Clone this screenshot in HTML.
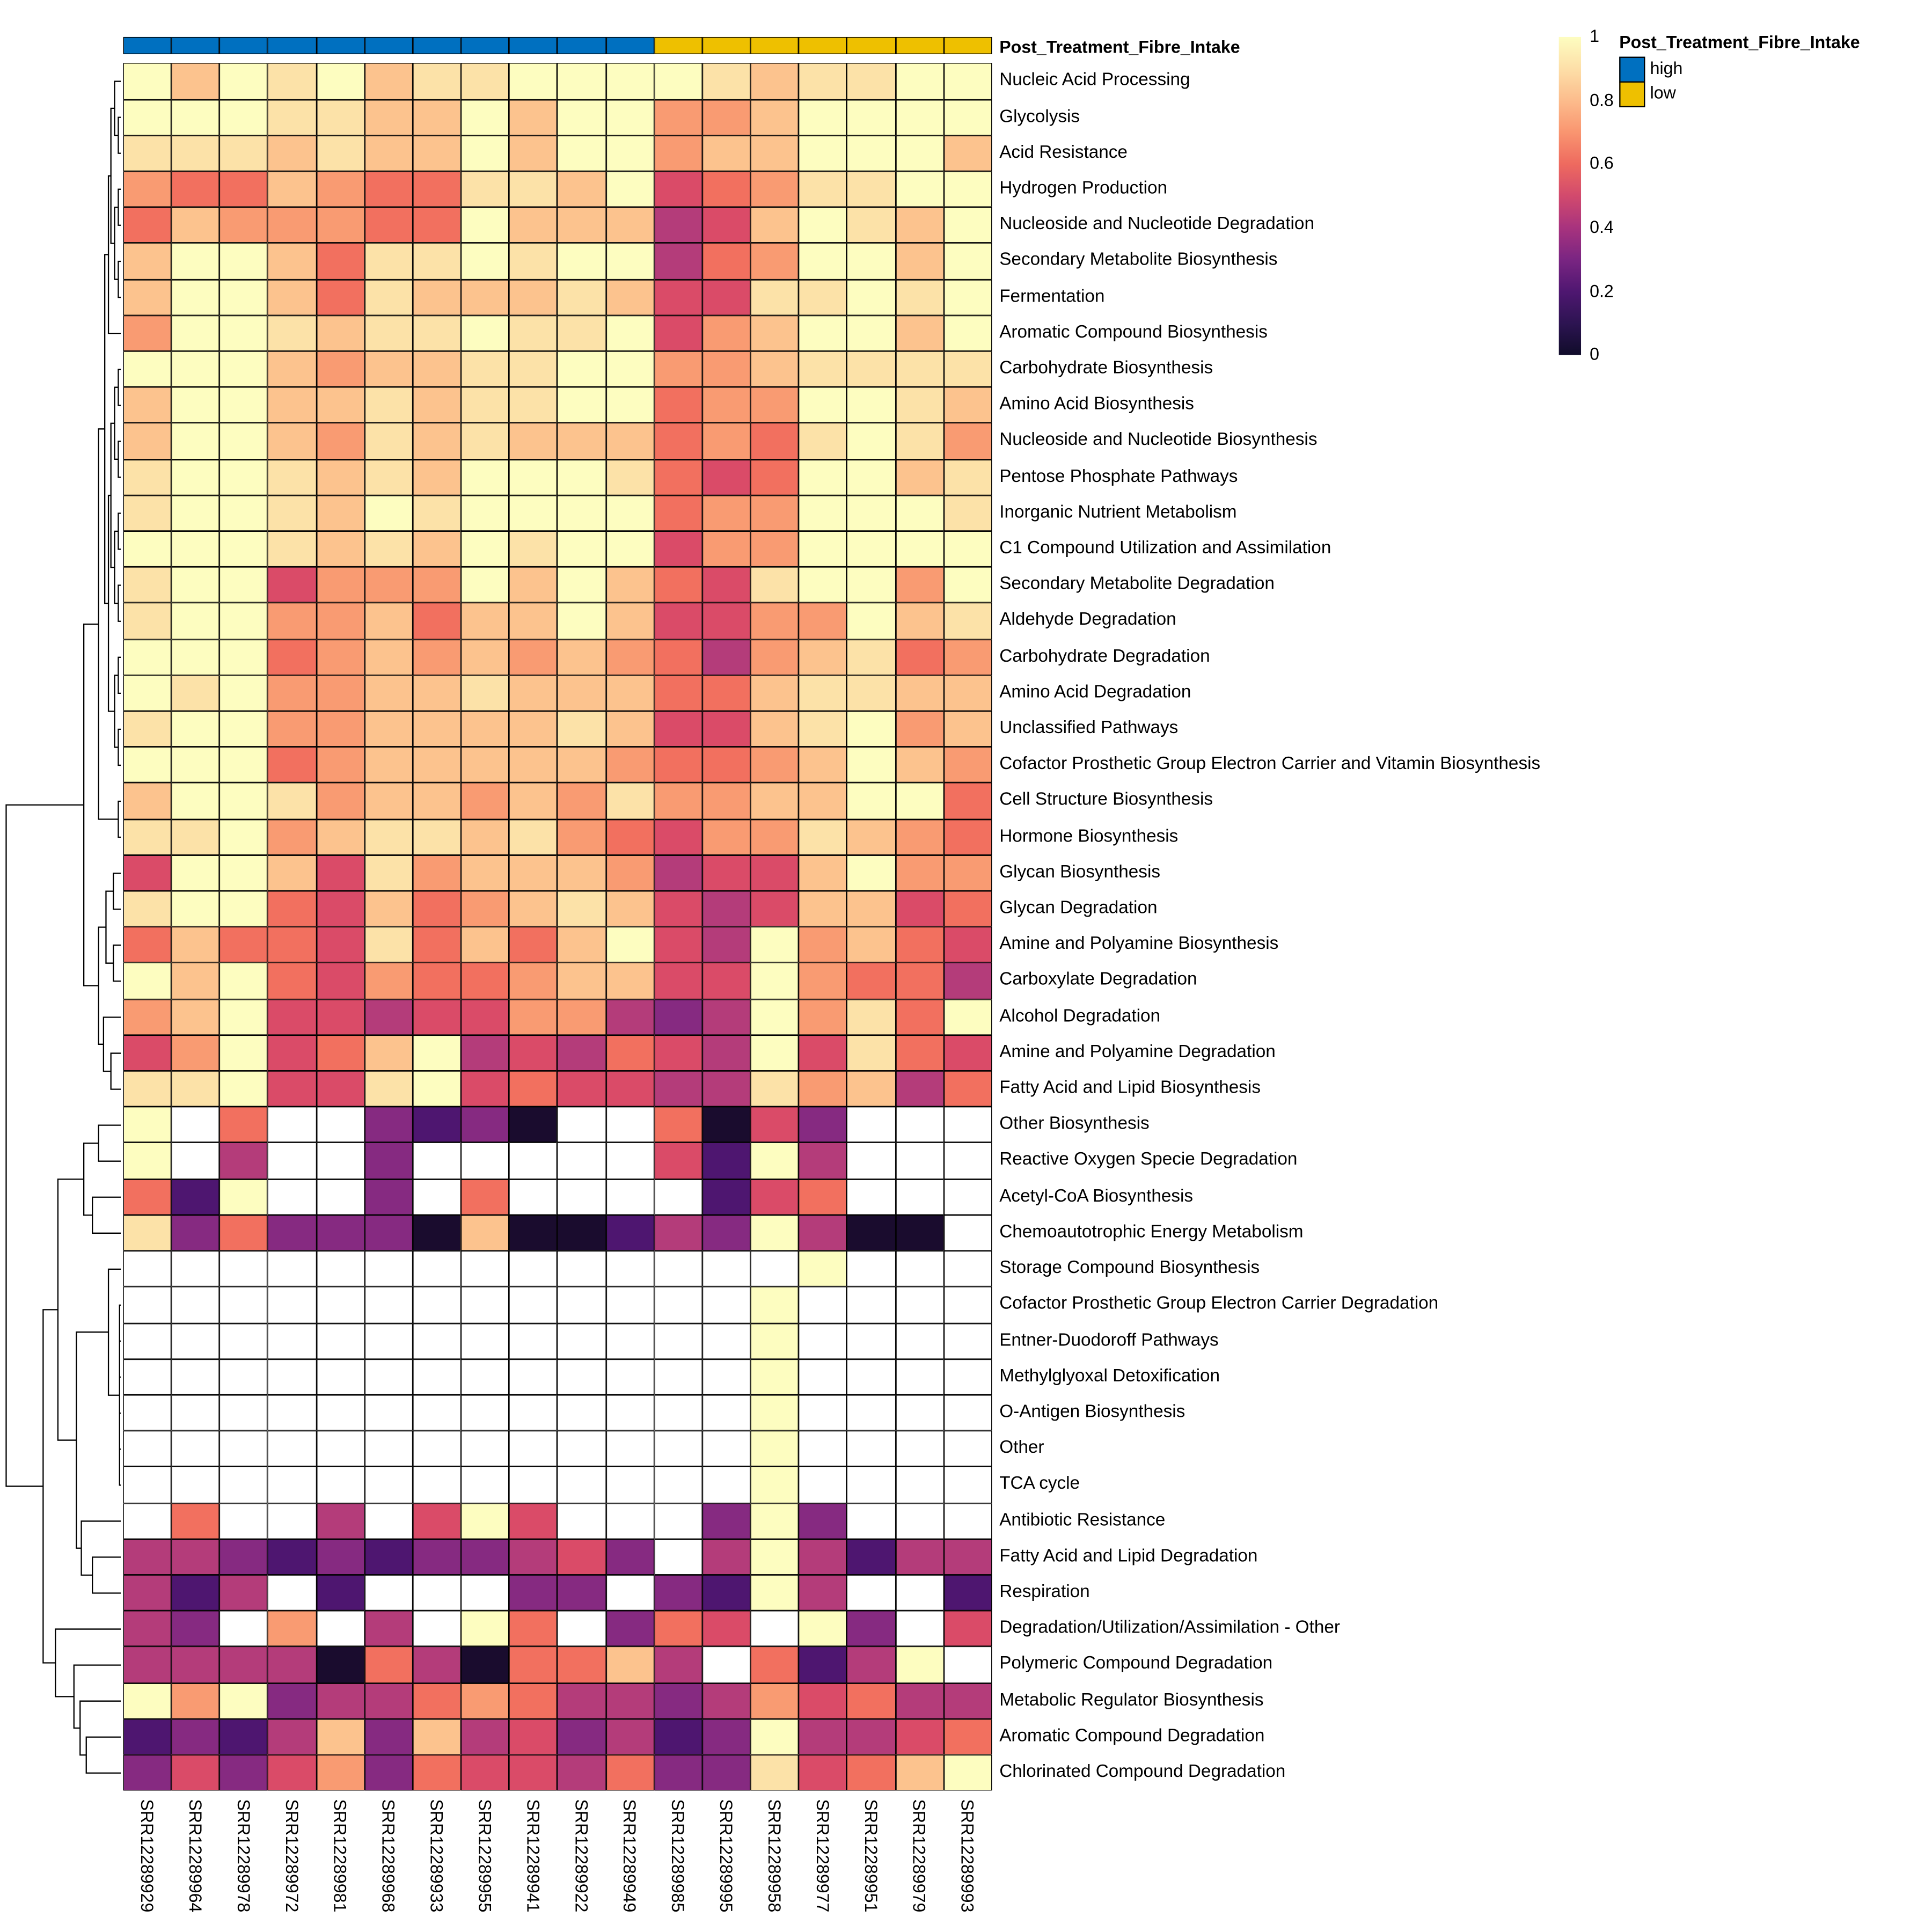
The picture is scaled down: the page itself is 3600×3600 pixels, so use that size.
<!DOCTYPE html>
<html><head><meta charset="utf-8"><style>
html,body{margin:0;padding:0;background:#fff;width:3600px;height:3600px;overflow:hidden;}
#w{position:absolute;left:0;top:0;width:1568px;height:1568px;transform:scale(2.2962);transform-origin:0 0;font-family:"Liberation Sans",Arial,sans-serif;color:#000;}
#hm{position:absolute;left:100px;top:51.4px;display:grid;grid-template-columns:repeat(18,39.17px);grid-auto-rows:29.21px;}
#hm i{display:block;box-shadow:inset 0 0 0 0.6px #000;}
.c9{background:#FDFDC0}.c8{background:#FCE2A8}.c7{background:#FCC38E}.c6{background:#F99B72}.c5{background:#F2705F}.c4{background:#DA4B68}.c3{background:#B43C7A}.c2{background:#862A81}.c1{background:#4E1670}.c0{background:#1A0C2E}.cW{background:#fff}
#ann{position:absolute;left:100px;top:30px;display:grid;grid-template-columns:repeat(18,39.17px);height:14px;}
#ann i{display:block;box-shadow:inset 0 0 0 0.6px #000;}
.hi{background:#0070C0}.lo{background:#EEC000}
#rl{position:absolute;left:811px;top:51.4px;font-size:14.5px;}
#rl div{height:29.21px;line-height:29.21px;white-space:nowrap;}
#cl{position:absolute;left:100px;top:1460px;display:flex;font-size:14px;}
#cl div{width:39.17px;writing-mode:vertical-rl;display:flex;align-items:center;white-space:nowrap;}
.t{position:absolute;white-space:nowrap;}
</style></head><body><div id="w">
<div id="ann"><i class=hi></i><i class=hi></i><i class=hi></i><i class=hi></i><i class=hi></i><i class=hi></i><i class=hi></i><i class=hi></i><i class=hi></i><i class=hi></i><i class=hi></i><i class=lo></i><i class=lo></i><i class=lo></i><i class=lo></i><i class=lo></i><i class=lo></i><i class=lo></i></div>
<div class="t" style="left:811px;top:30px;font-size:14px;font-weight:bold;">Post_Treatment_Fibre_Intake</div>
<div id="hm">
<i class=c9></i><i class=c7></i><i class=c9></i><i class=c8></i><i class=c9></i><i class=c7></i><i class=c8></i><i class=c8></i><i class=c9></i><i class=c9></i><i class=c9></i><i class=c9></i><i class=c8></i><i class=c7></i><i class=c8></i><i class=c8></i><i class=c9></i><i class=c9></i>
<i class=c9></i><i class=c9></i><i class=c9></i><i class=c8></i><i class=c8></i><i class=c7></i><i class=c7></i><i class=c9></i><i class=c7></i><i class=c9></i><i class=c9></i><i class=c6></i><i class=c6></i><i class=c7></i><i class=c9></i><i class=c9></i><i class=c9></i><i class=c9></i>
<i class=c8></i><i class=c8></i><i class=c8></i><i class=c7></i><i class=c8></i><i class=c7></i><i class=c7></i><i class=c9></i><i class=c7></i><i class=c9></i><i class=c9></i><i class=c6></i><i class=c7></i><i class=c7></i><i class=c9></i><i class=c9></i><i class=c9></i><i class=c7></i>
<i class=c6></i><i class=c5></i><i class=c5></i><i class=c7></i><i class=c6></i><i class=c5></i><i class=c5></i><i class=c8></i><i class=c8></i><i class=c7></i><i class=c9></i><i class=c4></i><i class=c5></i><i class=c6></i><i class=c8></i><i class=c8></i><i class=c9></i><i class=c9></i>
<i class=c5></i><i class=c7></i><i class=c6></i><i class=c6></i><i class=c6></i><i class=c5></i><i class=c5></i><i class=c9></i><i class=c7></i><i class=c7></i><i class=c7></i><i class=c3></i><i class=c4></i><i class=c7></i><i class=c9></i><i class=c8></i><i class=c7></i><i class=c9></i>
<i class=c7></i><i class=c9></i><i class=c9></i><i class=c7></i><i class=c5></i><i class=c8></i><i class=c8></i><i class=c9></i><i class=c8></i><i class=c9></i><i class=c9></i><i class=c3></i><i class=c5></i><i class=c6></i><i class=c9></i><i class=c9></i><i class=c7></i><i class=c9></i>
<i class=c7></i><i class=c9></i><i class=c9></i><i class=c7></i><i class=c5></i><i class=c8></i><i class=c7></i><i class=c7></i><i class=c7></i><i class=c8></i><i class=c7></i><i class=c4></i><i class=c4></i><i class=c8></i><i class=c8></i><i class=c9></i><i class=c8></i><i class=c9></i>
<i class=c6></i><i class=c9></i><i class=c9></i><i class=c8></i><i class=c7></i><i class=c8></i><i class=c8></i><i class=c9></i><i class=c8></i><i class=c8></i><i class=c9></i><i class=c4></i><i class=c6></i><i class=c7></i><i class=c9></i><i class=c9></i><i class=c7></i><i class=c9></i>
<i class=c9></i><i class=c9></i><i class=c9></i><i class=c7></i><i class=c6></i><i class=c7></i><i class=c7></i><i class=c8></i><i class=c8></i><i class=c9></i><i class=c9></i><i class=c6></i><i class=c6></i><i class=c7></i><i class=c8></i><i class=c8></i><i class=c8></i><i class=c8></i>
<i class=c7></i><i class=c9></i><i class=c9></i><i class=c7></i><i class=c7></i><i class=c8></i><i class=c7></i><i class=c8></i><i class=c8></i><i class=c9></i><i class=c9></i><i class=c5></i><i class=c6></i><i class=c6></i><i class=c9></i><i class=c9></i><i class=c8></i><i class=c7></i>
<i class=c7></i><i class=c9></i><i class=c9></i><i class=c7></i><i class=c6></i><i class=c8></i><i class=c7></i><i class=c8></i><i class=c7></i><i class=c7></i><i class=c7></i><i class=c5></i><i class=c6></i><i class=c5></i><i class=c8></i><i class=c9></i><i class=c8></i><i class=c6></i>
<i class=c8></i><i class=c9></i><i class=c9></i><i class=c8></i><i class=c7></i><i class=c8></i><i class=c7></i><i class=c9></i><i class=c9></i><i class=c9></i><i class=c8></i><i class=c5></i><i class=c4></i><i class=c5></i><i class=c9></i><i class=c9></i><i class=c7></i><i class=c8></i>
<i class=c8></i><i class=c9></i><i class=c9></i><i class=c8></i><i class=c7></i><i class=c9></i><i class=c8></i><i class=c9></i><i class=c9></i><i class=c9></i><i class=c9></i><i class=c5></i><i class=c6></i><i class=c6></i><i class=c9></i><i class=c9></i><i class=c9></i><i class=c8></i>
<i class=c9></i><i class=c9></i><i class=c9></i><i class=c8></i><i class=c7></i><i class=c8></i><i class=c7></i><i class=c9></i><i class=c8></i><i class=c9></i><i class=c9></i><i class=c4></i><i class=c6></i><i class=c6></i><i class=c9></i><i class=c9></i><i class=c9></i><i class=c9></i>
<i class=c8></i><i class=c9></i><i class=c9></i><i class=c4></i><i class=c6></i><i class=c6></i><i class=c6></i><i class=c9></i><i class=c7></i><i class=c9></i><i class=c7></i><i class=c5></i><i class=c4></i><i class=c8></i><i class=c9></i><i class=c9></i><i class=c6></i><i class=c9></i>
<i class=c8></i><i class=c9></i><i class=c9></i><i class=c6></i><i class=c6></i><i class=c7></i><i class=c5></i><i class=c7></i><i class=c7></i><i class=c9></i><i class=c7></i><i class=c4></i><i class=c4></i><i class=c6></i><i class=c6></i><i class=c9></i><i class=c7></i><i class=c8></i>
<i class=c9></i><i class=c9></i><i class=c9></i><i class=c5></i><i class=c6></i><i class=c7></i><i class=c6></i><i class=c7></i><i class=c6></i><i class=c7></i><i class=c6></i><i class=c5></i><i class=c3></i><i class=c6></i><i class=c7></i><i class=c8></i><i class=c5></i><i class=c6></i>
<i class=c9></i><i class=c8></i><i class=c9></i><i class=c6></i><i class=c6></i><i class=c7></i><i class=c7></i><i class=c8></i><i class=c7></i><i class=c7></i><i class=c7></i><i class=c5></i><i class=c5></i><i class=c7></i><i class=c8></i><i class=c8></i><i class=c7></i><i class=c7></i>
<i class=c8></i><i class=c9></i><i class=c9></i><i class=c6></i><i class=c6></i><i class=c7></i><i class=c7></i><i class=c7></i><i class=c7></i><i class=c8></i><i class=c7></i><i class=c4></i><i class=c4></i><i class=c7></i><i class=c8></i><i class=c9></i><i class=c6></i><i class=c7></i>
<i class=c9></i><i class=c9></i><i class=c9></i><i class=c5></i><i class=c6></i><i class=c7></i><i class=c7></i><i class=c7></i><i class=c7></i><i class=c7></i><i class=c6></i><i class=c5></i><i class=c5></i><i class=c6></i><i class=c7></i><i class=c9></i><i class=c7></i><i class=c6></i>
<i class=c7></i><i class=c9></i><i class=c9></i><i class=c8></i><i class=c6></i><i class=c7></i><i class=c7></i><i class=c6></i><i class=c7></i><i class=c6></i><i class=c8></i><i class=c6></i><i class=c6></i><i class=c7></i><i class=c7></i><i class=c9></i><i class=c9></i><i class=c5></i>
<i class=c8></i><i class=c8></i><i class=c9></i><i class=c6></i><i class=c7></i><i class=c8></i><i class=c8></i><i class=c7></i><i class=c8></i><i class=c6></i><i class=c5></i><i class=c4></i><i class=c6></i><i class=c6></i><i class=c8></i><i class=c7></i><i class=c6></i><i class=c5></i>
<i class=c4></i><i class=c9></i><i class=c9></i><i class=c7></i><i class=c4></i><i class=c8></i><i class=c6></i><i class=c7></i><i class=c7></i><i class=c7></i><i class=c6></i><i class=c3></i><i class=c4></i><i class=c4></i><i class=c7></i><i class=c9></i><i class=c6></i><i class=c6></i>
<i class=c8></i><i class=c9></i><i class=c9></i><i class=c5></i><i class=c4></i><i class=c7></i><i class=c5></i><i class=c6></i><i class=c7></i><i class=c8></i><i class=c7></i><i class=c4></i><i class=c3></i><i class=c4></i><i class=c7></i><i class=c7></i><i class=c4></i><i class=c5></i>
<i class=c5></i><i class=c7></i><i class=c5></i><i class=c5></i><i class=c4></i><i class=c8></i><i class=c5></i><i class=c7></i><i class=c5></i><i class=c7></i><i class=c9></i><i class=c4></i><i class=c3></i><i class=c9></i><i class=c6></i><i class=c7></i><i class=c5></i><i class=c4></i>
<i class=c9></i><i class=c7></i><i class=c9></i><i class=c5></i><i class=c4></i><i class=c6></i><i class=c5></i><i class=c5></i><i class=c6></i><i class=c7></i><i class=c7></i><i class=c4></i><i class=c4></i><i class=c9></i><i class=c6></i><i class=c5></i><i class=c5></i><i class=c3></i>
<i class=c6></i><i class=c7></i><i class=c9></i><i class=c4></i><i class=c4></i><i class=c3></i><i class=c4></i><i class=c4></i><i class=c6></i><i class=c6></i><i class=c3></i><i class=c2></i><i class=c3></i><i class=c9></i><i class=c6></i><i class=c8></i><i class=c5></i><i class=c9></i>
<i class=c4></i><i class=c6></i><i class=c9></i><i class=c4></i><i class=c5></i><i class=c7></i><i class=c9></i><i class=c3></i><i class=c4></i><i class=c3></i><i class=c5></i><i class=c4></i><i class=c3></i><i class=c9></i><i class=c4></i><i class=c8></i><i class=c5></i><i class=c4></i>
<i class=c8></i><i class=c8></i><i class=c9></i><i class=c4></i><i class=c4></i><i class=c8></i><i class=c9></i><i class=c4></i><i class=c5></i><i class=c4></i><i class=c4></i><i class=c3></i><i class=c3></i><i class=c8></i><i class=c6></i><i class=c7></i><i class=c3></i><i class=c5></i>
<i class=c9></i><i class=cW></i><i class=c5></i><i class=cW></i><i class=cW></i><i class=c2></i><i class=c1></i><i class=c2></i><i class=c0></i><i class=cW></i><i class=cW></i><i class=c5></i><i class=c0></i><i class=c4></i><i class=c2></i><i class=cW></i><i class=cW></i><i class=cW></i>
<i class=c9></i><i class=cW></i><i class=c3></i><i class=cW></i><i class=cW></i><i class=c2></i><i class=cW></i><i class=cW></i><i class=cW></i><i class=cW></i><i class=cW></i><i class=c4></i><i class=c1></i><i class=c9></i><i class=c3></i><i class=cW></i><i class=cW></i><i class=cW></i>
<i class=c5></i><i class=c1></i><i class=c9></i><i class=cW></i><i class=cW></i><i class=c2></i><i class=cW></i><i class=c5></i><i class=cW></i><i class=cW></i><i class=cW></i><i class=cW></i><i class=c1></i><i class=c4></i><i class=c5></i><i class=cW></i><i class=cW></i><i class=cW></i>
<i class=c8></i><i class=c2></i><i class=c5></i><i class=c2></i><i class=c2></i><i class=c2></i><i class=c0></i><i class=c7></i><i class=c0></i><i class=c0></i><i class=c1></i><i class=c3></i><i class=c2></i><i class=c9></i><i class=c3></i><i class=c0></i><i class=c0></i><i class=cW></i>
<i class=cW></i><i class=cW></i><i class=cW></i><i class=cW></i><i class=cW></i><i class=cW></i><i class=cW></i><i class=cW></i><i class=cW></i><i class=cW></i><i class=cW></i><i class=cW></i><i class=cW></i><i class=cW></i><i class=c9></i><i class=cW></i><i class=cW></i><i class=cW></i>
<i class=cW></i><i class=cW></i><i class=cW></i><i class=cW></i><i class=cW></i><i class=cW></i><i class=cW></i><i class=cW></i><i class=cW></i><i class=cW></i><i class=cW></i><i class=cW></i><i class=cW></i><i class=c9></i><i class=cW></i><i class=cW></i><i class=cW></i><i class=cW></i>
<i class=cW></i><i class=cW></i><i class=cW></i><i class=cW></i><i class=cW></i><i class=cW></i><i class=cW></i><i class=cW></i><i class=cW></i><i class=cW></i><i class=cW></i><i class=cW></i><i class=cW></i><i class=c9></i><i class=cW></i><i class=cW></i><i class=cW></i><i class=cW></i>
<i class=cW></i><i class=cW></i><i class=cW></i><i class=cW></i><i class=cW></i><i class=cW></i><i class=cW></i><i class=cW></i><i class=cW></i><i class=cW></i><i class=cW></i><i class=cW></i><i class=cW></i><i class=c9></i><i class=cW></i><i class=cW></i><i class=cW></i><i class=cW></i>
<i class=cW></i><i class=cW></i><i class=cW></i><i class=cW></i><i class=cW></i><i class=cW></i><i class=cW></i><i class=cW></i><i class=cW></i><i class=cW></i><i class=cW></i><i class=cW></i><i class=cW></i><i class=c9></i><i class=cW></i><i class=cW></i><i class=cW></i><i class=cW></i>
<i class=cW></i><i class=cW></i><i class=cW></i><i class=cW></i><i class=cW></i><i class=cW></i><i class=cW></i><i class=cW></i><i class=cW></i><i class=cW></i><i class=cW></i><i class=cW></i><i class=cW></i><i class=c9></i><i class=cW></i><i class=cW></i><i class=cW></i><i class=cW></i>
<i class=cW></i><i class=cW></i><i class=cW></i><i class=cW></i><i class=cW></i><i class=cW></i><i class=cW></i><i class=cW></i><i class=cW></i><i class=cW></i><i class=cW></i><i class=cW></i><i class=cW></i><i class=c9></i><i class=cW></i><i class=cW></i><i class=cW></i><i class=cW></i>
<i class=cW></i><i class=c5></i><i class=cW></i><i class=cW></i><i class=c3></i><i class=cW></i><i class=c4></i><i class=c9></i><i class=c4></i><i class=cW></i><i class=cW></i><i class=cW></i><i class=c2></i><i class=c9></i><i class=c2></i><i class=cW></i><i class=cW></i><i class=cW></i>
<i class=c3></i><i class=c3></i><i class=c2></i><i class=c1></i><i class=c2></i><i class=c1></i><i class=c2></i><i class=c2></i><i class=c3></i><i class=c4></i><i class=c2></i><i class=cW></i><i class=c3></i><i class=c9></i><i class=c3></i><i class=c1></i><i class=c3></i><i class=c3></i>
<i class=c3></i><i class=c1></i><i class=c3></i><i class=cW></i><i class=c1></i><i class=cW></i><i class=cW></i><i class=cW></i><i class=c2></i><i class=c2></i><i class=cW></i><i class=c2></i><i class=c1></i><i class=c9></i><i class=c3></i><i class=cW></i><i class=cW></i><i class=c1></i>
<i class=c3></i><i class=c2></i><i class=cW></i><i class=c6></i><i class=cW></i><i class=c3></i><i class=cW></i><i class=c9></i><i class=c5></i><i class=cW></i><i class=c2></i><i class=c5></i><i class=c4></i><i class=cW></i><i class=c9></i><i class=c2></i><i class=cW></i><i class=c4></i>
<i class=c3></i><i class=c3></i><i class=c3></i><i class=c3></i><i class=c0></i><i class=c5></i><i class=c3></i><i class=c0></i><i class=c5></i><i class=c5></i><i class=c7></i><i class=c3></i><i class=cW></i><i class=c5></i><i class=c1></i><i class=c3></i><i class=c9></i><i class=cW></i>
<i class=c9></i><i class=c6></i><i class=c9></i><i class=c2></i><i class=c3></i><i class=c3></i><i class=c5></i><i class=c6></i><i class=c5></i><i class=c3></i><i class=c3></i><i class=c2></i><i class=c3></i><i class=c6></i><i class=c4></i><i class=c5></i><i class=c3></i><i class=c3></i>
<i class=c1></i><i class=c2></i><i class=c1></i><i class=c3></i><i class=c7></i><i class=c2></i><i class=c7></i><i class=c3></i><i class=c4></i><i class=c2></i><i class=c3></i><i class=c1></i><i class=c2></i><i class=c9></i><i class=c3></i><i class=c3></i><i class=c4></i><i class=c5></i>
<i class=c2></i><i class=c4></i><i class=c2></i><i class=c4></i><i class=c6></i><i class=c2></i><i class=c5></i><i class=c4></i><i class=c4></i><i class=c3></i><i class=c5></i><i class=c2></i><i class=c2></i><i class=c8></i><i class=c4></i><i class=c5></i><i class=c7></i><i class=c9></i>
</div>
<div id="rl">
<div>Nucleic Acid Processing</div><div>Glycolysis</div><div>Acid Resistance</div><div>Hydrogen Production</div><div>Nucleoside and Nucleotide Degradation</div><div>Secondary Metabolite Biosynthesis</div><div>Fermentation</div><div>Aromatic Compound Biosynthesis</div><div>Carbohydrate Biosynthesis</div><div>Amino Acid Biosynthesis</div><div>Nucleoside and Nucleotide Biosynthesis</div><div>Pentose Phosphate Pathways</div><div>Inorganic Nutrient Metabolism</div><div>C1 Compound Utilization and Assimilation</div><div>Secondary Metabolite Degradation</div><div>Aldehyde Degradation</div><div>Carbohydrate Degradation</div><div>Amino Acid Degradation</div><div>Unclassified Pathways</div><div>Cofactor Prosthetic Group Electron Carrier and Vitamin Biosynthesis</div><div>Cell Structure Biosynthesis</div><div>Hormone Biosynthesis</div><div>Glycan Biosynthesis</div><div>Glycan Degradation</div><div>Amine and Polyamine Biosynthesis</div><div>Carboxylate Degradation</div><div>Alcohol Degradation</div><div>Amine and Polyamine Degradation</div><div>Fatty Acid and Lipid Biosynthesis</div><div>Other Biosynthesis</div><div>Reactive Oxygen Specie Degradation</div><div>Acetyl-CoA Biosynthesis</div><div>Chemoautotrophic Energy Metabolism</div><div>Storage Compound Biosynthesis</div><div>Cofactor Prosthetic Group Electron Carrier Degradation</div><div>Entner-Duodoroff Pathways</div><div>Methylglyoxal Detoxification</div><div>O-Antigen Biosynthesis</div><div>Other</div><div>TCA cycle</div><div>Antibiotic Resistance</div><div>Fatty Acid and Lipid Degradation</div><div>Respiration</div><div>Degradation/Utilization/Assimilation - Other</div><div>Polymeric Compound Degradation</div><div>Metabolic Regulator Biosynthesis</div><div>Aromatic Compound Degradation</div><div>Chlorinated Compound Degradation</div>
</div>
<div id="cl">
<div>SRR12289929</div><div>SRR12289964</div><div>SRR12289978</div><div>SRR12289972</div><div>SRR12289981</div><div>SRR12289968</div><div>SRR12289933</div><div>SRR12289955</div><div>SRR12289941</div><div>SRR12289922</div><div>SRR12289949</div><div>SRR12289985</div><div>SRR12289995</div><div>SRR12289958</div><div>SRR12289977</div><div>SRR12289951</div><div>SRR12289979</div><div>SRR12289993</div>
</div>
<div style="position:absolute;left:1265px;top:30px;width:18px;height:258px;background:linear-gradient(to top,#100C2A 0%,#2D1452 10%,#4F1771 20%,#7A2582 30%,#A8337E 40%,#D24A6D 50%,#EE6A5F 60%,#F99570 70%,#FCBC8C 80%,#FDDFA8 90%,#FDFDC0 100%);"></div>
<div class="t" style="left:1290px;top:21px;font-size:14px;">1</div>
<div class="t" style="left:1290px;top:73px;font-size:14px;">0.8</div>
<div class="t" style="left:1290px;top:124px;font-size:14px;">0.6</div>
<div class="t" style="left:1290px;top:176px;font-size:14px;">0.4</div>
<div class="t" style="left:1290px;top:228px;font-size:14px;">0.2</div>
<div class="t" style="left:1290px;top:279px;font-size:14px;">0</div>
<div class="t" style="left:1314px;top:26px;font-size:14px;font-weight:bold;">Post_Treatment_Fibre_Intake</div>
<div style="position:absolute;left:1314px;top:46px;width:19px;height:19px;background:#0070C0;border:1px solid #000;"></div>
<div style="position:absolute;left:1314px;top:66px;width:19px;height:19px;background:#EEC000;border:1px solid #000;"></div>
<div class="t" style="left:1339px;top:47px;font-size:14px;">high</div>
<div class="t" style="left:1339px;top:67px;font-size:14px;">low</div>
<svg style="position:absolute;left:0;top:0" width="1560" height="1560" viewBox="0 0 1560 1560">
<g fill="none" stroke="#000" stroke-width="1">
<path d="M98 95.2H96V124.4H98"/><path d="M98 153.6H96V182.8H98"/><path d="M98 212.1H96V241.3H98"/><path d="M98 299.7H96V328.9H98"/><path d="M98 358.1H96V387.3H98"/><path d="M98 416.5H96V445.7H98"/><path d="M98 474.9H96V504.2H98"/><path d="M98 533.4H96V562.6H98"/><path d="M98 591.8H96V621H98"/><path d="M98 650.2H96V679.4H98"/>
<path d="M98 66H93V109.8H96"/><path d="M96 168.2H93V226.7H96"/><path d="M96 314.3H93V372.7H96"/><path d="M96 431.1H93V489.6H96"/><path d="M96 548H93V606.4H96"/>
<path d="M93 87.9H90V197.5H93"/><path d="M93 343.5H90V460.4H93"/>
<path d="M90 142.7H88V270.5H98"/><path d="M90 402H88V577.2H93"/>
<path d="M88 206.6H85V489.6H88"/>
<path d="M85 348.1H80V664.8H96"/>
<path d="M98 708.6H92V737.8H98"/><path d="M98 767H92V796.2H98"/><path d="M98 854.7H90V883.9H98"/>
<path d="M92 723.2H86V781.6H92"/><path d="M98 825.5H84V869.3H90"/><path d="M86 752.4H80V847.4H84"/>
<path d="M80 506.5H68V799.9H80"/>
<path d="M98 913.1H80V942.3H98"/><path d="M98 971.5H75V1000.7H98"/><path d="M80 927.7H68V986.1H75"/>
<path d="M98 1059.1H97V1205.2H98M98 1088.3H97M98 1117.5H97M98 1146.8H97M98 1176H97"/>
<path d="M98 1029.9H88V1132.2H97"/>
<path d="M98 1263.6H75V1292.8H98"/><path d="M98 1234.4H66V1278.2H75"/><path d="M88 1081H62V1256.3H66"/>
<path d="M68 956.9H47V1168.7H62"/>
<path d="M98 1409.6H70V1438.8H98"/><path d="M98 1380.4H65V1424.2H70"/><path d="M98 1351.2H60V1402.3H65"/><path d="M98 1322H45V1376.8H60"/>
<path d="M47 1062.8H35V1349.4H45"/>
<path d="M68 653.2H5V1206.1H35"/>
</g></svg>
</div></body></html>
